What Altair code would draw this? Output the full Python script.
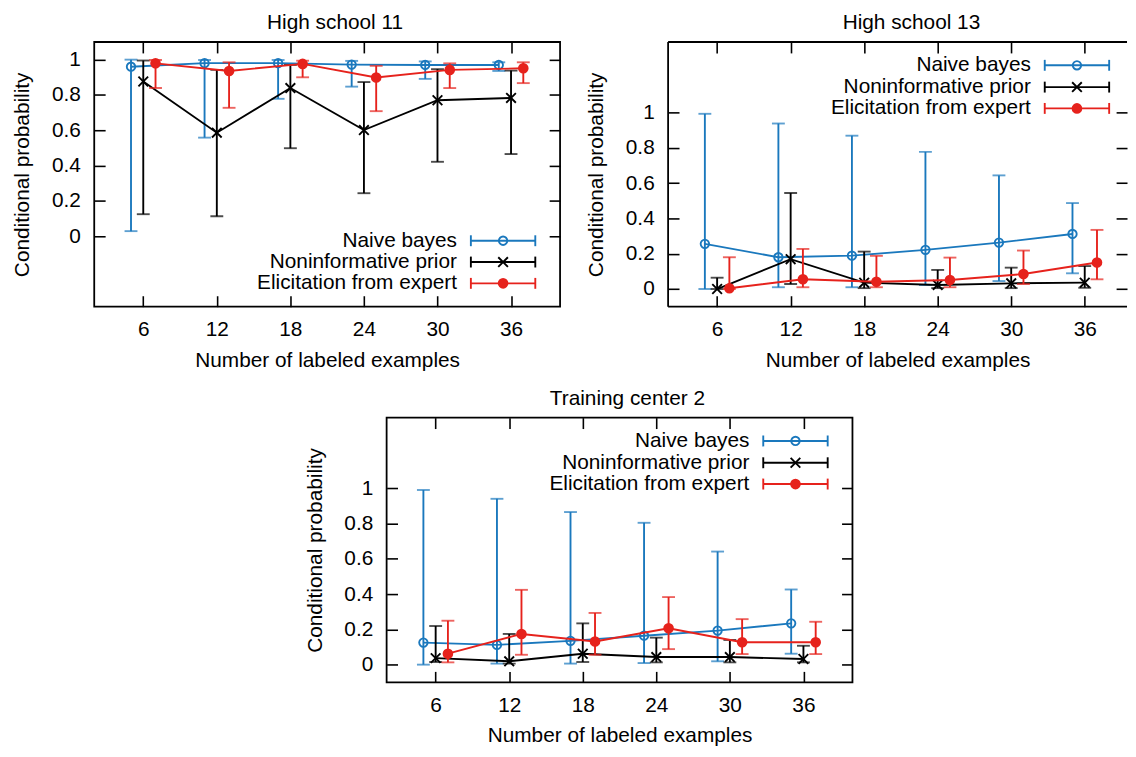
import altair as alt
import pandas as pd

# ---------------- data ----------------
series_names = ["Naive bayes", "Noninformative prior", "Elicitation from expert"]
series_colors = ["#1a78bd", "#000000", "#e6221c"]

x_nb = [5, 11, 17, 23, 29, 35]
x_ni = [6, 12, 18, 24, 30, 36]
x_el = [7, 13, 19, 25, 31, 37]
x_ticks = [6, 12, 18, 24, 30, 36]
y_ticks = [0, 0.2, 0.4, 0.6, 0.8, 1]

# High school 11
hs11_nb = [0.960, 0.980, 0.980, 0.972, 0.970, 0.970]
hs11_nb_lo = [0.028, 0.558, 0.778, 0.847, 0.891, 0.936]
hs11_nb_hi = [1.000, 0.998, 0.998, 0.993, 0.990, 0.985]
hs11_ni = [0.876, 0.586, 0.839, 0.601, 0.770, 0.783]
hs11_ni_lo = [0.124, 0.112, 0.498, 0.243, 0.421, 0.465]
hs11_ni_hi = [0.995, 0.942, 0.970, 0.873, 0.946, 0.938]
hs11_el = [0.979, 0.936, 0.976, 0.899, 0.942, 0.951]
hs11_el_lo = [0.839, 0.727, 0.900, 0.708, 0.839, 0.867]
hs11_el_hi = [0.998, 0.985, 0.994, 0.965, 0.979, 0.985]

# High school 13
hs13_nb = [0.256, 0.180, 0.189, 0.222, 0.263, 0.312]
hs13_nb_lo = [0.0, 0.010, 0.010, 0.023, 0.045, 0.089]
hs13_nb_hi = [0.993, 0.938, 0.869, 0.777, 0.644, 0.487]
hs13_ni = [0.0, 0.169, 0.036, 0.023, 0.032, 0.036]
hs13_ni_lo = [0.0, 0.028, 0.005, 0.005, 0.005, 0.007]
hs13_ni_hi = [0.064, 0.544, 0.212, 0.108, 0.121, 0.130]
hs13_el = [0.004, 0.055, 0.041, 0.051, 0.085, 0.150]
hs13_el_lo = [0.0, 0.010, 0.010, 0.010, 0.028, 0.055]
hs13_el_hi = [0.180, 0.227, 0.188, 0.178, 0.218, 0.335]

# Training center 2
tc2_nb = [0.125, 0.112, 0.135, 0.164, 0.193, 0.234]
tc2_nb_lo = [0.0, 0.006, 0.006, 0.009, 0.019, 0.062]
tc2_nb_hi = [0.990, 0.940, 0.865, 0.804, 0.641, 0.426]
tc2_ni = [0.037, 0.019, 0.062, 0.043, 0.043, 0.032]
tc2_ni_lo = [0.015, 0.006, 0.015, 0.013, 0.013, 0.013]
tc2_ni_hi = [0.219, 0.174, 0.234, 0.153, 0.140, 0.107]
tc2_el = [0.062, 0.174, 0.131, 0.206, 0.127, 0.127]
tc2_el_lo = [0.013, 0.056, 0.056, 0.088, 0.060, 0.060]
tc2_el_hi = [0.249, 0.424, 0.293, 0.383, 0.258, 0.243]

# ---------------- style ----------------
FONT = "Liberation Sans"
FS = 21
LW = 1.9
FRAME = 1.8
TICK = 11
W, H = 470, 267

marker_shapes = ["circle", "M-1,-1L1,1M-1,1L1,-1", "circle"]
marker_filled = [False, False, True]
marker_sizes = [72, 95, 115]


def series_layers(df, color, shape, filled, size, xs, ys):
    x = alt.X("x:Q", scale=xs, axis=None)
    bars = alt.Chart(df).mark_rule(color=color, strokeWidth=LW).encode(
        x=x, y=alt.Y("lo:Q", scale=ys, axis=None), y2="hi:Q")
    cap_lo = alt.Chart(df).mark_tick(color=color, size=13, thickness=LW, orient="horizontal").encode(
        x=x, y=alt.Y("lo:Q", scale=ys, axis=None))
    cap_hi = alt.Chart(df).mark_tick(color=color, size=13, thickness=LW, orient="horizontal").encode(
        x=x, y=alt.Y("hi:Q", scale=ys, axis=None))
    line = alt.Chart(df).mark_line(color=color, strokeWidth=LW).encode(
        x=x, y=alt.Y("y:Q", scale=ys, axis=None))
    pts = alt.Chart(df).mark_point(color=color, shape=shape, filled=filled, size=size,
                                   strokeWidth=LW, opacity=1).encode(
        x=x, y=alt.Y("y:Q", scale=ys, axis=None))
    return [bars, cap_lo, cap_hi, line, pts]


def legend_layers(rows_y):
    out = []
    for name, color, shape, filled, size, yy in zip(series_names, series_colors, marker_shapes,
                                                     marker_filled, marker_sizes, rows_y):
        d = pd.DataFrame({"label": [name]})
        out.append(alt.Chart(d).mark_text(align="right", baseline="middle", font=FONT,
                                          fontSize=FS, color="black").encode(
            text="label:N", x=alt.value(366), y=alt.value(yy)))
        out.append(alt.Chart(d).mark_rule(color=color, strokeWidth=LW).encode(
            x=alt.value(380), x2=alt.value(445), y=alt.value(yy)))
        out.append(alt.Chart(d).mark_rule(color=color, strokeWidth=LW).encode(
            x=alt.value(380), y=alt.value(yy - 5.5), y2=alt.value(yy + 5.5)))
        out.append(alt.Chart(d).mark_rule(color=color, strokeWidth=LW).encode(
            x=alt.value(445), y=alt.value(yy - 5.5), y2=alt.value(yy + 5.5)))
        out.append(alt.Chart(d).mark_point(color=color, shape=shape, filled=filled, size=size,
                                           strokeWidth=LW, opacity=1).encode(
            x=alt.value(412.5), y=alt.value(yy)))
    return out


def frame_layers(width):
    # three-sided frame (right side falls outside the picture in the reference)
    d = pd.DataFrame({"a": [0]})
    top = alt.Chart(d).mark_rule(color="black", strokeWidth=FRAME).encode(
        x=alt.value(0), x2=alt.value(width), y=alt.value(0))
    bot = alt.Chart(d).mark_rule(color="black", strokeWidth=FRAME).encode(
        x=alt.value(0), x2=alt.value(width), y=alt.value(H))
    left = alt.Chart(d).mark_rule(color="black", strokeWidth=FRAME).encode(
        x=alt.value(0), y=alt.value(0), y2=alt.value(H))
    return [top, bot, left]


def panel(title, vals, ydom, rows_y, xmax=40, width=W, dx=8, open_right=False):
    xs = alt.Scale(domain=[2, xmax], nice=False, zero=False)
    ys = alt.Scale(domain=ydom, nice=False, zero=False)
    xlists = [x_nb, x_ni, x_el]
    layers = []
    all_df = []
    for i in range(3):
        y, lo, hi = vals[i]
        df = pd.DataFrame({"x": xlists[i], "y": y, "lo": lo, "hi": hi})
        all_df.append(df)
        layers += series_layers(df, series_colors[i], marker_shapes[i], marker_filled[i],
                                marker_sizes[i], xs, ys)
    base_df = pd.concat(all_df)
    axis_common = dict(tickSize=TICK, tickWidth=1.6, tickColor="black", domain=False, grid=False,
                       offset=-TICK, labelFont=FONT, labelFontSize=FS, labelColor="black",
                       titleFont=FONT, titleFontSize=FS, titleFontWeight="normal",
                       titleColor="black", labelFlush=False, labelOverlap=False)
    main_axes = alt.Chart(base_df).mark_point(opacity=0).encode(
        x=alt.X("x:Q", scale=xs, title="Number of labeled examples",
                axis=alt.Axis(orient="bottom", values=x_ticks, format="d", labelPadding=12,
                              titlePadding=10, **axis_common)),
        y=alt.Y("y:Q", scale=ys, title="Conditional probability",
                axis=alt.Axis(orient="left", values=y_ticks, format="~g", labelPadding=14,
                              titlePadding=19, **axis_common)),
    )
    mirror_axes = alt.Chart(base_df).mark_point(opacity=0).encode(
        x=alt.X("x:Q", scale=xs, title=None,
                axis=alt.Axis(orient="top", values=x_ticks, labels=False, **axis_common)),
        y=alt.Y("y:Q", scale=ys, title=None,
                axis=alt.Axis(orient="right", values=y_ticks, labels=False, **axis_common)),
    )
    extra = frame_layers(width) if open_right else []
    props = dict(
        width=width, height=H,
        title=alt.TitleParams(title, font=FONT, fontSize=FS, fontWeight="normal",
                              color="black", offset=8, dx=dx),
    )
    if open_right:
        props["view"] = alt.ViewBackground(strokeOpacity=0)
    ch = alt.layer(main_axes, mirror_axes, *extra, *layers, *legend_layers(rows_y)).resolve_axis(
        x="independent", y="independent"
    ).properties(**props)
    return ch


p1 = panel("High school 11",
           [(hs11_nb, hs11_nb_lo, hs11_nb_hi), (hs11_ni, hs11_ni_lo, hs11_ni_hi),
            (hs11_el, hs11_el_lo, hs11_el_hi)],
           [-0.4, 1.1], [200.5, 222, 243.5])
p2 = panel("High school 13",
           [(hs13_nb, hs13_nb_lo, hs13_nb_hi), (hs13_ni, hs13_ni_lo, hs13_ni_hi),
            (hs13_el, hs13_el_lo, hs13_el_hi)],
           [-0.1, 1.4], [23.5, 45.5, 67], xmax=39.45, width=463, dx=14, open_right=True)
p3 = panel("Training center 2",
           [(tc2_nb, tc2_nb_lo, tc2_nb_hi), (tc2_ni, tc2_ni_lo, tc2_ni_hi),
            (tc2_el, tc2_el_lo, tc2_el_hi)],
           [-0.1, 1.4], [23.5, 45.5, 67])

spacer = alt.Chart(pd.DataFrame({"a": [0]})).mark_point(opacity=0).encode(
    x=alt.value(0), y=alt.value(0)
).properties(width=295, height=H, view=alt.ViewBackground(strokeOpacity=0))

top_row = alt.hconcat(p1, p2, spacing=109, bounds="flush")
bottom_row = alt.hconcat(spacer, p3, spacing=0, bounds="flush")

# with flush bounds the nested rows count as zero height, so the spacing is the
# distance between the top of the upper plots and the top of the lower plot
chart = alt.vconcat(top_row, bottom_row, spacing=379, bounds="flush").properties(
    padding={"left": 2, "top": 0, "right": 0, "bottom": 0}, background="white"
).configure_view(stroke="black", strokeWidth=FRAME)

chart.save("out.html", embed_options={"renderer": "svg", "actions": False})
